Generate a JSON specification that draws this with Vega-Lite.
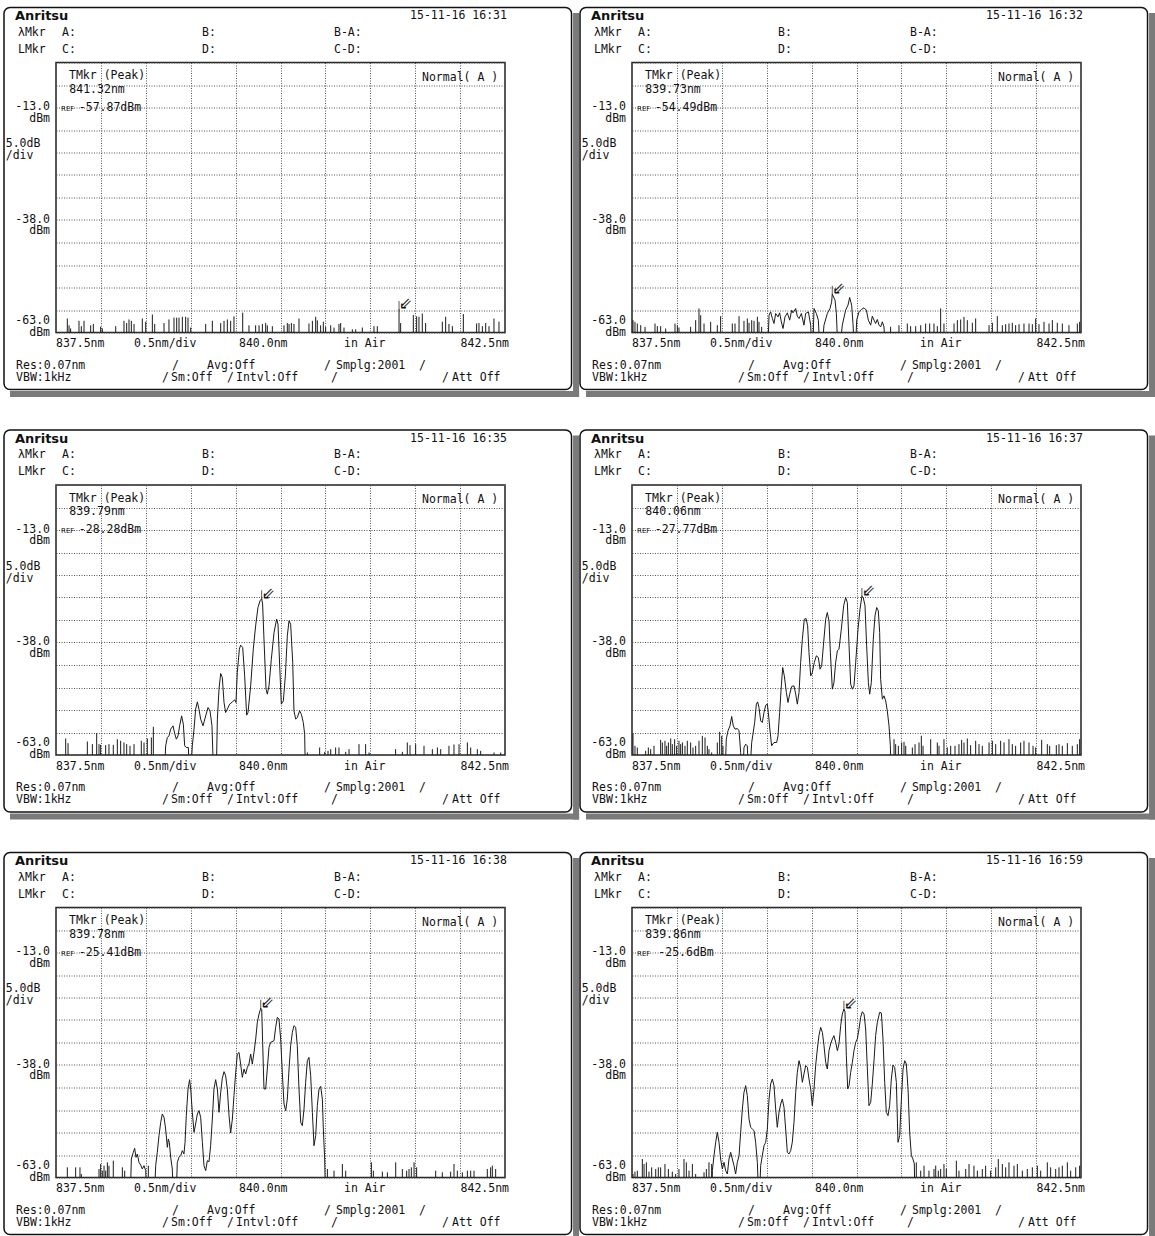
{
"$schema": "https://vega.github.io/schema/vega-lite/v6.json",
"background": "white",
"padding": {"left": 2, "top": 5.5, "right": 0, "bottom": 0},
"config": {
 "view": {"stroke": "#222", "strokeWidth": 1.5},
 "axis": {"gridColor": "#555", "gridDash": [1, 1.5], "gridWidth": 1, "gridOpacity": 1},
 "text": {"color": "#111"}
},
"datasets": {
"info": [
 {"p":1,"date":"15-11-16 16:31","wl":"841.32nm","pk":"-57.87dBm","w":841.32,"d":-57.87},
 {"p":2,"date":"15-11-16 16:32","wl":"839.73nm","pk":"-54.49dBm","w":839.73,"d":-54.49},
 {"p":3,"date":"15-11-16 16:35","wl":"839.79nm","pk":"-28.28dBm","w":839.79,"d":-28.28},
 {"p":4,"date":"15-11-16 16:37","wl":"840.06nm","pk":"-27.77dBm","w":840.06,"d":-27.77},
 {"p":5,"date":"15-11-16 16:38","wl":"839.78nm","pk":"-25.41dBm","w":839.78,"d":-25.41},
 {"p":6,"date":"15-11-16 16:59","wl":"839.86nm","pk":"-25.6dBm","w":839.86,"d":-25.6}
],
"lab": [
 {"t":"λMkr","w":837.077,"d":3.56},{"t":"A:","w":837.567,"d":3.56},{"t":"B:","w":839.126,"d":3.56},{"t":"B-A:","w":840.596,"d":3.56},
 {"t":"LMkr","w":837.077,"d":-0.22},{"t":"C:","w":837.567,"d":-0.22},{"t":"D:","w":839.126,"d":-0.22},{"t":"C-D:","w":840.596,"d":-0.22},
 {"t":"TMkr (Peak)","w":837.645,"d":-6.0},{"t":"Normal( A )","w":841.576,"d":-6.4},
 {"t":"5.0dB","w":836.94,"d":-21.2},{"t":"/div","w":836.94,"d":-23.85},
 {"t":"837.5nm","w":837.5,"d":-65.6},{"t":"0.5nm/div","w":838.369,"d":-65.6},{"t":"840.0nm","w":839.538,"d":-65.6},{"t":"in Air","w":840.707,"d":-65.6},
 {"t":"Res:0.07nm","w":837.055,"d":-70.4},{"t":"/","w":838.792,"d":-70.4},{"t":"Avg:Off","w":839.182,"d":-70.4},{"t":"/","w":840.484,"d":-70.4},{"t":"Smplg:2001","w":840.618,"d":-70.4},{"t":"/","w":841.542,"d":-70.4},
 {"t":"VBW:1kHz","w":837.055,"d":-73.1},{"t":"/","w":838.68,"d":-73.1},{"t":"Sm:Off","w":838.781,"d":-73.1},{"t":"/","w":839.404,"d":-73.1},{"t":"Intvl:Off","w":839.504,"d":-73.1},{"t":"/","w":840.562,"d":-73.1},{"t":"/","w":841.798,"d":-73.1},{"t":"Att Off","w":841.91,"d":-73.1}
],
"labr": [
 {"t":"-13.0","w":837.433,"d":-12.9},{"t":"dBm","w":837.433,"d":-15.55},
 {"t":"-38.0","w":837.433,"d":-37.9},{"t":"dBm","w":837.433,"d":-40.55},
 {"t":"-63.0","w":837.433,"d":-60.35},{"t":"dBm","w":837.433,"d":-63.0},
 {"t":"842.5nm","w":842.545,"d":-65.6}
],
"s1": [
 {"w":837.626,"d":-59.9},{"w":837.645,"d":-61.4},{"w":837.663,"d":-62.1},{"w":837.756,"d":-60.4},{"w":837.782,"d":-61.6},{"w":837.812,"d":-60.4},{"w":837.886,"d":-61.4},{"w":837.916,"d":-61.1},{"w":837.997,"d":-61.7},{"w":838.016,"d":-62.1},{"w":838.165,"d":-61.6},{"w":838.257,"d":-60.4},{"w":838.287,"d":-60.9},{"w":838.313,"d":-60.1},{"w":838.339,"d":-60.4},{"w":838.369,"d":-61.1},{"w":838.461,"d":-59.9},{"w":838.499,"d":-60.6},{"w":838.573,"d":-59.0},{"w":838.599,"d":-61.1},{"w":838.703,"d":-60.9},{"w":838.758,"d":-60.1},{"w":838.814,"d":-59.7},{"w":838.844,"d":-59.7},{"w":838.87,"d":-59.7},{"w":838.907,"d":-59.5},{"w":838.944,"d":-59.5},{"w":838.97,"d":-59.7},{"w":839.0,"d":-61.9},{"w":839.167,"d":-61.1},{"w":839.241,"d":-60.4},{"w":839.334,"d":-60.9},{"w":839.371,"d":-60.4},{"w":839.408,"d":-60.1},{"w":839.445,"d":-60.4},{"w":839.482,"d":-59.4},{"w":839.579,"d":-58.6},{"w":839.649,"d":-61.4},{"w":839.723,"d":-61.4},{"w":839.761,"d":-61.4},{"w":839.798,"d":-61.1},{"w":839.835,"d":-60.9},{"w":839.853,"d":-61.4},{"w":839.909,"d":-61.6},{"w":840.039,"d":-61.4},{"w":840.076,"d":-60.9},{"w":840.095,"d":-61.1},{"w":840.121,"d":-60.9},{"w":840.15,"d":-61.1},{"w":840.206,"d":-59.9},{"w":840.317,"d":-61.0},{"w":840.355,"d":-60.4},{"w":840.392,"d":-59.5},{"w":840.41,"d":-60.3},{"w":840.447,"d":-61.4},{"w":840.477,"d":-60.6},{"w":840.503,"d":-61.7},{"w":840.559,"d":-61.4},{"w":840.596,"d":-61.9},{"w":840.651,"d":-61.1},{"w":840.67,"d":-60.9},{"w":840.707,"d":-61.9},{"w":840.8,"d":-62.3},{"w":840.837,"d":-62.3},{"w":840.911,"d":-61.9},{"w":841.041,"d":-61.6},{"w":841.078,"d":-61.6},{"w":841.32,"d":-57.87},{"w":841.338,"d":-60.9},{"w":841.479,"d":-59.1},{"w":841.516,"d":-59.4},{"w":841.542,"d":-59.5},{"w":841.579,"d":-58.8},{"w":841.616,"d":-60.9},{"w":841.802,"d":-60.6},{"w":841.839,"d":-59.5},{"w":841.876,"d":-61.1},{"w":841.914,"d":-61.6},{"w":842.036,"d":-58.9},{"w":842.184,"d":-61.0},{"w":842.21,"d":-60.9},{"w":842.248,"d":-61.6},{"w":842.285,"d":-60.9},{"w":842.322,"d":-61.6},{"w":842.377,"d":-59.9},{"w":842.433,"d":-60.6}
],
"s2": [
 {"w":837.511,"d":-60.26},{"w":837.533,"d":-60.63},{"w":837.559,"d":-61.0},{"w":837.597,"d":-61.37},{"w":837.645,"d":-61.74},{"w":837.756,"d":-61.0},{"w":837.782,"d":-61.59},{"w":837.819,"d":-61.59},{"w":837.875,"d":-62.11},{"w":837.979,"d":-61.0},{"w":838.005,"d":-61.37},{"w":838.023,"d":-61.89},{"w":838.153,"d":-61.74},{"w":838.209,"d":-60.26},{"w":838.246,"d":-57.67},{"w":838.265,"d":-59.15},{"w":838.302,"d":-61.0},{"w":838.376,"d":-60.63},{"w":838.45,"d":-61.37},{"w":838.487,"d":-59.37},{"w":838.617,"d":-61.0},{"w":838.647,"d":-61.0},{"w":838.692,"d":-59.37},{"w":838.747,"d":-60.41},{"w":838.784,"d":-59.89},{"w":838.803,"d":-60.85},{"w":838.833,"d":-60.26},{"w":838.859,"d":-60.41},{"w":838.896,"d":-59.52},{"w":838.914,"d":-60.63},{"w":838.944,"d":-61.74},
 {"w":840.38,"d":-61.74},{"w":840.473,"d":-61.37},{"w":840.566,"d":-61.0},{"w":840.603,"d":-61.59},{"w":840.659,"d":-61.59},{"w":840.715,"d":-61.37},{"w":840.77,"d":-61.0},{"w":840.815,"d":-61.0},{"w":840.863,"d":-61.0},{"w":840.9,"d":-61.59},{"w":840.937,"d":-57.67},{"w":840.974,"d":-61.0},{"w":841.086,"d":-61.0},{"w":841.123,"d":-60.26},{"w":841.16,"d":-60.11},{"w":841.197,"d":-59.52},{"w":841.234,"d":-60.26},{"w":841.29,"d":-60.85},{"w":841.327,"d":-59.89},{"w":841.476,"d":-61.37},{"w":841.513,"d":-60.85},{"w":841.568,"d":-59.37},{"w":841.624,"d":-61.37},{"w":841.661,"d":-61.15},{"w":841.698,"d":-61.0},{"w":841.735,"d":-60.85},{"w":841.772,"d":-61.37},{"w":841.81,"d":-61.15},{"w":841.865,"d":-61.0},{"w":841.921,"d":-61.0},{"w":841.958,"d":-61.15},{"w":841.995,"d":-59.89},{"w":842.032,"d":-61.15},{"w":842.088,"d":-60.63},{"w":842.144,"d":-61.0},{"w":842.181,"d":-60.26},{"w":842.236,"d":-60.85},{"w":842.292,"d":-61.0},{"w":842.366,"d":-61.37},{"w":842.459,"d":-61.0},{"w":842.485,"d":-60.63}
],
"c2": [
 {"w":839.007,"d":-70},{"w":839.026,"d":-59.15},{"w":839.044,"d":-58.41},{"w":839.063,"d":-59.89},{"w":839.081,"d":-61.0},{"w":839.1,"d":-58.78},{"w":839.126,"d":-59.52},{"w":839.144,"d":-58.63},{"w":839.163,"d":-60.63},{"w":839.182,"d":-62.11},{"w":839.204,"d":-59.52},{"w":839.23,"d":-58.63},{"w":839.256,"d":-60.26},{"w":839.278,"d":-58.04},{"w":839.293,"d":-58.63},{"w":839.323,"d":-57.67},{"w":839.341,"d":-59.37},{"w":839.36,"d":-59.89},{"w":839.386,"d":-58.78},{"w":839.415,"d":-61.37},{"w":839.434,"d":-58.78},{"w":839.464,"d":-58.41},{"w":839.49,"d":-61.37},{"w":839.508,"d":-70},{"w":839.527,"d":-57.67},{"w":839.553,"d":-58.78},{"w":839.575,"d":-60.26},{"w":839.601,"d":-70},{"w":839.638,"d":-61.37},{"w":839.675,"d":-58.78},{"w":839.705,"d":-57.67},{"w":839.723,"d":-56.19},{"w":839.73,"d":-54.49},{"w":839.761,"d":-55.81},{"w":839.776,"d":-58.78},{"w":839.798,"d":-70},{"w":839.842,"d":-61.37},{"w":839.879,"d":-58.04},{"w":839.905,"d":-56.93},{"w":839.924,"d":-55.22},{"w":839.946,"d":-56.93},{"w":839.961,"d":-61.0},{"w":839.983,"d":-70},{"w":840.002,"d":-60.26},{"w":840.028,"d":-58.41},{"w":840.054,"d":-57.89},{"w":840.084,"d":-57.52},{"w":840.11,"d":-58.04},{"w":840.132,"d":-60.26},{"w":840.158,"d":-61.37},{"w":840.176,"d":-59.37},{"w":840.195,"d":-60.26},{"w":840.213,"d":-61.0},{"w":840.232,"d":-60.11},{"w":840.251,"d":-61.37},{"w":840.269,"d":-61.74},{"w":840.288,"d":-60.63},{"w":840.306,"d":-61.74},{"w":840.33,"d":-70}
],
"s3": [
 {"w":837.608,"d":-59.33},{"w":837.634,"d":-60.37},{"w":837.849,"d":-60.0},{"w":837.905,"d":-60.59},{"w":837.953,"d":-58.15},{"w":837.979,"d":-60.59},{"w":837.997,"d":-60.74},{"w":838.053,"d":-60.81},{"w":838.09,"d":-60.59},{"w":838.138,"d":-60.74},{"w":838.183,"d":-59.48},{"w":838.22,"d":-59.85},{"w":838.257,"d":-60.22},{"w":838.287,"d":-60.59},{"w":838.324,"d":-60.96},{"w":838.369,"d":-60.59},{"w":838.45,"d":-59.85},{"w":838.48,"d":-60.22},{"w":838.517,"d":-59.33},{"w":838.562,"d":-59.11},{"w":838.584,"d":-56.74},
 {"w":840.299,"d":-62.44},{"w":840.436,"d":-61.33},{"w":840.492,"d":-62.3},{"w":840.529,"d":-62.07},{"w":840.559,"d":-61.7},{"w":840.614,"d":-61.33},{"w":840.651,"d":-61.33},{"w":840.726,"d":-62.3},{"w":840.763,"d":-61.7},{"w":840.874,"d":-60.59},{"w":840.948,"d":-60.59},{"w":840.986,"d":-62.44},{"w":841.282,"d":-61.7},{"w":841.357,"d":-62.3},{"w":841.412,"d":-60.22},{"w":841.442,"d":-60.81},{"w":841.505,"d":-60.59},{"w":841.598,"d":-60.96},{"w":841.691,"d":-61.7},{"w":841.747,"d":-61.33},{"w":841.784,"d":-61.7},{"w":841.876,"d":-60.96},{"w":841.932,"d":-60.67},{"w":841.988,"d":-60.59},{"w":842.081,"d":-60.22},{"w":842.118,"d":-61.33},{"w":842.192,"d":-61.7},{"w":842.229,"d":-62.07},{"w":842.378,"d":-62.44},{"w":842.452,"d":-62.44}
],
"c3": [
 {"w":838.703,"d":-70},{"w":838.721,"d":-60.96},{"w":838.74,"d":-59.11},{"w":838.758,"d":-58.74},{"w":838.777,"d":-57.26},{"w":838.803,"d":-56.52},{"w":838.821,"d":-58.15},{"w":838.84,"d":-59.48},{"w":838.859,"d":-58.74},{"w":838.877,"d":-56.52},{"w":838.899,"d":-54.3},{"w":838.918,"d":-56.15},{"w":838.933,"d":-60.96},{"w":838.951,"d":-61.33},{"w":838.974,"d":-61.33},{"w":838.992,"d":-70},{"w":839.018,"d":-60.96},{"w":839.037,"d":-57.26},{"w":839.055,"d":-52.81},{"w":839.074,"d":-51.19},{"w":839.092,"d":-52.81},{"w":839.111,"d":-55.04},{"w":839.137,"d":-56.52},{"w":839.167,"d":-54.3},{"w":839.193,"d":-52.44},{"w":839.215,"d":-53.19},{"w":839.237,"d":-56.52},{"w":839.259,"d":-70},{"w":839.282,"d":-70},{"w":839.297,"d":-55.04},{"w":839.315,"d":-48.37},{"w":839.334,"d":-44.89},{"w":839.352,"d":-45.78},{"w":839.371,"d":-51.33},{"w":839.389,"d":-53.56},{"w":839.408,"d":-52.81},{"w":839.434,"d":-51.7},{"w":839.464,"d":-51.19},{"w":839.49,"d":-50.74},{"w":839.504,"d":-51.33},{"w":839.519,"d":-44.67},{"w":839.542,"d":-39.48},{"w":839.556,"d":-38.59},{"w":839.579,"d":-39.11},{"w":839.601,"d":-45.41},{"w":839.623,"d":-54.15},{"w":839.638,"d":-53.56},{"w":839.668,"d":-47.63},{"w":839.697,"d":-39.48},{"w":839.723,"d":-34.3},{"w":839.749,"d":-30.22},{"w":839.772,"d":-28.74},{"w":839.79,"d":-28.28},{"w":839.801,"d":-29.48},{"w":839.816,"d":-37.26},{"w":839.839,"d":-48.37},{"w":839.853,"d":-49.48},{"w":839.872,"d":-47.63},{"w":839.898,"d":-41.7},{"w":839.928,"d":-35.78},{"w":839.957,"d":-32.81},{"w":839.972,"d":-33.93},{"w":839.991,"d":-43.19},{"w":840.009,"d":-51.7},{"w":840.032,"d":-50.96},{"w":840.054,"d":-45.41},{"w":840.076,"d":-36.52},{"w":840.095,"d":-33.19},{"w":840.113,"d":-33.93},{"w":840.136,"d":-42.44},{"w":840.15,"d":-53.19},{"w":840.169,"d":-55.04},{"w":840.187,"d":-54.67},{"w":840.213,"d":-53.19},{"w":840.232,"d":-53.93},{"w":840.254,"d":-55.78},{"w":840.269,"d":-58.37},{"w":840.28,"d":-70}
],
"s4": [
 {"w":837.511,"d":-58.15},{"w":837.533,"d":-60.96},{"w":837.559,"d":-61.33},{"w":837.652,"d":-62.07},{"w":837.682,"d":-61.33},{"w":837.708,"d":-61.7},{"w":837.745,"d":-60.96},{"w":837.819,"d":-59.63},{"w":837.838,"d":-60.22},{"w":837.867,"d":-59.85},{"w":837.886,"d":-60.96},{"w":837.905,"d":-60.22},{"w":837.931,"d":-59.33},{"w":837.949,"d":-60.59},{"w":837.975,"d":-59.48},{"w":837.997,"d":-60.96},{"w":838.023,"d":-59.85},{"w":838.042,"d":-60.59},{"w":838.061,"d":-60.22},{"w":838.09,"d":-60.96},{"w":838.116,"d":-59.85},{"w":838.153,"d":-60.22},{"w":838.179,"d":-61.33},{"w":838.209,"d":-60.96},{"w":838.246,"d":-59.85},{"w":838.283,"d":-58.74},{"w":838.313,"d":-59.11},{"w":838.339,"d":-60.96},{"w":838.357,"d":-61.7},{"w":838.387,"d":-62.44},{"w":838.45,"d":-60.22},{"w":838.476,"d":-57.85},{"w":838.499,"d":-58.74},{"w":838.513,"d":-60.96},
 {"w":840.418,"d":-59.48},{"w":840.436,"d":-60.59},{"w":840.466,"d":-60.96},{"w":840.503,"d":-60.22},{"w":840.529,"d":-60.07},{"w":840.548,"d":-60.96},{"w":840.622,"d":-61.33},{"w":840.652,"d":-60.59},{"w":840.696,"d":-60.22},{"w":840.722,"d":-58.74},{"w":840.741,"d":-60.96},{"w":840.826,"d":-59.48},{"w":840.9,"d":-60.22},{"w":840.919,"d":-60.96},{"w":840.974,"d":-59.48},{"w":841.011,"d":-61.33},{"w":841.049,"d":-60.96},{"w":841.097,"d":-60.96},{"w":841.141,"d":-60.59},{"w":841.171,"d":-59.63},{"w":841.197,"d":-60.22},{"w":841.234,"d":-59.33},{"w":841.271,"d":-60.81},{"w":841.327,"d":-59.85},{"w":841.364,"d":-60.59},{"w":841.401,"d":-60.96},{"w":841.476,"d":-60.22},{"w":841.513,"d":-59.85},{"w":841.55,"d":-60.59},{"w":841.605,"d":-59.85},{"w":841.643,"d":-60.22},{"w":841.698,"d":-59.48},{"w":841.735,"d":-60.59},{"w":841.772,"d":-60.96},{"w":841.828,"d":-60.22},{"w":841.865,"d":-59.85},{"w":841.921,"d":-60.22},{"w":841.966,"d":-60.96},{"w":841.995,"d":-61.33},{"w":842.062,"d":-59.63},{"w":842.125,"d":-60.59},{"w":842.151,"d":-60.96},{"w":842.225,"d":-60.81},{"w":842.255,"d":-60.59},{"w":842.292,"d":-60.96},{"w":842.348,"d":-60.37},{"w":842.403,"d":-60.96},{"w":842.459,"d":-60.59},{"w":842.485,"d":-59.48}
],
"c4": [
 {"w":838.532,"d":-70},{"w":838.55,"d":-59.48},{"w":838.569,"d":-57.63},{"w":838.591,"d":-56.52},{"w":838.61,"d":-54.44},{"w":838.628,"d":-56.52},{"w":838.647,"d":-57.26},{"w":838.673,"d":-57.11},{"w":838.692,"d":-57.63},{"w":838.71,"d":-62.44},{"w":838.729,"d":-70},{"w":838.747,"d":-61.33},{"w":838.766,"d":-60.59},{"w":838.784,"d":-60.96},{"w":838.803,"d":-70},{"w":838.833,"d":-60.22},{"w":838.847,"d":-58.37},{"w":838.866,"d":-55.78},{"w":838.885,"d":-51.7},{"w":838.899,"d":-51.19},{"w":838.914,"d":-52.44},{"w":838.933,"d":-55.41},{"w":838.951,"d":-55.78},{"w":838.97,"d":-53.56},{"w":838.989,"d":-51.93},{"w":839.007,"d":-51.7},{"w":839.018,"d":-53.56},{"w":839.037,"d":-57.63},{"w":839.055,"d":-60.96},{"w":839.081,"d":-60.22},{"w":839.111,"d":-60.22},{"w":839.126,"d":-58.74},{"w":839.144,"d":-53.56},{"w":839.163,"d":-47.63},{"w":839.178,"d":-43.56},{"w":839.196,"d":-45.41},{"w":839.219,"d":-49.11},{"w":839.237,"d":-51.33},{"w":839.256,"d":-49.48},{"w":839.278,"d":-47.78},{"w":839.304,"d":-47.63},{"w":839.323,"d":-49.48},{"w":839.341,"d":-51.7},{"w":839.36,"d":-49.11},{"w":839.378,"d":-42.44},{"w":839.397,"d":-37.26},{"w":839.419,"d":-32.81},{"w":839.438,"d":-32.67},{"w":839.456,"d":-34.3},{"w":839.471,"d":-40.22},{"w":839.49,"d":-45.41},{"w":839.508,"d":-44.67},{"w":839.53,"d":-42.44},{"w":839.553,"d":-40.96},{"w":839.575,"d":-41.33},{"w":839.594,"d":-43.93},{"w":839.612,"d":-43.19},{"w":839.631,"d":-38.74},{"w":839.657,"d":-32.81},{"w":839.675,"d":-31.33},{"w":839.694,"d":-33.19},{"w":839.709,"d":-40.22},{"w":839.731,"d":-48.37},{"w":839.749,"d":-46.89},{"w":839.768,"d":-42.44},{"w":839.787,"d":-39.85},{"w":839.805,"d":-39.48},{"w":839.831,"d":-35.04},{"w":839.857,"d":-29.85},{"w":839.879,"d":-28.0},{"w":839.898,"d":-29.11},{"w":839.917,"d":-38.74},{"w":839.935,"d":-47.26},{"w":839.954,"d":-48.37},{"w":839.972,"d":-47.63},{"w":839.991,"d":-42.44},{"w":840.017,"d":-35.04},{"w":840.039,"d":-30.59},{"w":840.06,"d":-27.77},{"w":840.075,"d":-28.0},{"w":840.095,"d":-29.85},{"w":840.113,"d":-38.74},{"w":840.132,"d":-46.89},{"w":840.147,"d":-49.48},{"w":840.165,"d":-46.89},{"w":840.187,"d":-37.26},{"w":840.206,"d":-32.07},{"w":840.225,"d":-30.22},{"w":840.243,"d":-30.96},{"w":840.258,"d":-35.78},{"w":840.269,"d":-46.15},{"w":840.288,"d":-50.59},{"w":840.306,"d":-49.85},{"w":840.325,"d":-50.96},{"w":840.343,"d":-53.19},{"w":840.362,"d":-56.52},{"w":840.377,"d":-60.96},{"w":840.388,"d":-70}
],
"s5": [
 {"w":837.626,"d":-60.74},{"w":837.719,"d":-60.74},{"w":837.767,"d":-60.74},{"w":837.782,"d":-62.22},{"w":837.979,"d":-61.11},{"w":837.997,"d":-60.0},{"w":838.016,"d":-61.48},{"w":838.035,"d":-60.37},{"w":838.053,"d":-61.48},{"w":838.072,"d":-59.63},{"w":838.09,"d":-60.37},{"w":838.138,"d":-59.26},{"w":838.239,"d":-60.74},{"w":838.265,"d":-61.48},{"w":838.528,"d":-60.37},
 {"w":840.522,"d":-61.11},{"w":840.596,"d":-61.48},{"w":840.689,"d":-60.0},{"w":840.726,"d":-61.48},{"w":841.012,"d":-59.63},{"w":841.034,"d":-61.48},{"w":841.134,"d":-61.7},{"w":841.19,"d":-61.85},{"w":841.283,"d":-59.63},{"w":841.357,"d":-61.11},{"w":841.405,"d":-61.48},{"w":841.431,"d":-61.11},{"w":841.457,"d":-60.74},{"w":841.487,"d":-59.63},{"w":841.516,"d":-60.74},{"w":841.728,"d":-61.48},{"w":841.802,"d":-61.85},{"w":841.895,"d":-61.7},{"w":841.932,"d":-60.0},{"w":841.969,"d":-61.48},{"w":842.025,"d":-61.85},{"w":842.081,"d":-61.48},{"w":842.118,"d":-61.48},{"w":842.155,"d":-61.48},{"w":842.303,"d":-61.11},{"w":842.34,"d":-60.74},{"w":842.359,"d":-60.37},{"w":842.396,"d":-61.11}
],
"c5": [
 {"w":838.324,"d":-70},{"w":838.339,"d":-58.89},{"w":838.361,"d":-57.41},{"w":838.376,"d":-56.52},{"w":838.391,"d":-58.52},{"w":838.406,"d":-57.78},{"w":838.424,"d":-59.63},{"w":838.443,"d":-60.22},{"w":838.461,"d":-61.11},{"w":838.48,"d":-60.37},{"w":838.499,"d":-61.48},{"w":838.512,"d":-70},{"w":838.591,"d":-70},{"w":838.61,"d":-60.37},{"w":838.628,"d":-57.41},{"w":838.647,"d":-53.7},{"w":838.666,"d":-50.74},{"w":838.684,"d":-48.89},{"w":838.703,"d":-49.63},{"w":838.721,"d":-52.22},{"w":838.74,"d":-56.3},{"w":838.751,"d":-54.44},{"w":838.762,"d":-55.19},{"w":838.777,"d":-58.52},{"w":838.795,"d":-61.11},{"w":838.814,"d":-70},{"w":838.833,"d":-70},{"w":838.851,"d":-59.63},{"w":838.87,"d":-58.52},{"w":838.888,"d":-58.15},{"w":838.907,"d":-57.04},{"w":838.925,"d":-57.78},{"w":838.937,"d":-55.19},{"w":838.951,"d":-49.26},{"w":838.97,"d":-43.33},{"w":838.988,"d":-41.26},{"w":839.0,"d":-43.33},{"w":839.018,"d":-48.52},{"w":839.037,"d":-52.96},{"w":839.055,"d":-51.11},{"w":839.074,"d":-48.89},{"w":839.092,"d":-48.15},{"w":839.111,"d":-49.63},{"w":839.13,"d":-55.19},{"w":839.148,"d":-60.37},{"w":839.167,"d":-61.48},{"w":839.185,"d":-59.26},{"w":839.204,"d":-59.48},{"w":839.222,"d":-55.93},{"w":839.241,"d":-50.0},{"w":839.259,"d":-43.33},{"w":839.278,"d":-41.26},{"w":839.297,"d":-43.33},{"w":839.315,"d":-48.52},{"w":839.334,"d":-44.07},{"w":839.352,"d":-40.96},{"w":839.371,"d":-39.48},{"w":839.389,"d":-40.37},{"w":839.408,"d":-43.33},{"w":839.427,"d":-49.26},{"w":839.445,"d":-53.11},{"w":839.464,"d":-50.0},{"w":839.482,"d":-44.81},{"w":839.501,"d":-39.63},{"w":839.519,"d":-35.56},{"w":839.538,"d":-35.19},{"w":839.556,"d":-37.78},{"w":839.575,"d":-40.74},{"w":839.594,"d":-38.89},{"w":839.612,"d":-40.0},{"w":839.631,"d":-38.52},{"w":839.649,"d":-37.78},{"w":839.668,"d":-35.56},{"w":839.686,"d":-37.78},{"w":839.705,"d":-35.19},{"w":839.724,"d":-32.22},{"w":839.742,"d":-28.52},{"w":839.761,"d":-26.67},{"w":839.78,"d":-25.41},{"w":839.791,"d":-25.7},{"w":839.801,"d":-32.96},{"w":839.816,"d":-43.33},{"w":839.835,"d":-43.33},{"w":839.853,"d":-38.89},{"w":839.872,"d":-34.07},{"w":839.891,"d":-32.96},{"w":839.928,"d":-32.59},{"w":839.946,"d":-29.63},{"w":839.965,"d":-27.41},{"w":839.983,"d":-27.78},{"w":840.002,"d":-32.22},{"w":840.02,"d":-39.63},{"w":840.039,"d":-46.67},{"w":840.058,"d":-48.15},{"w":840.076,"d":-45.56},{"w":840.095,"d":-38.89},{"w":840.113,"d":-33.7},{"w":840.132,"d":-30.74},{"w":840.15,"d":-29.26},{"w":840.169,"d":-29.63},{"w":840.187,"d":-33.7},{"w":840.206,"d":-43.33},{"w":840.225,"d":-50.74},{"w":840.243,"d":-51.48},{"w":840.262,"d":-47.78},{"w":840.28,"d":-41.85},{"w":840.299,"d":-37.04},{"w":840.317,"d":-36.3},{"w":840.336,"d":-40.37},{"w":840.355,"d":-48.52},{"w":840.373,"d":-55.93},{"w":840.392,"d":-53.7},{"w":840.41,"d":-47.04},{"w":840.429,"d":-43.33},{"w":840.447,"d":-42.74},{"w":840.466,"d":-45.56},{"w":840.477,"d":-52.22},{"w":840.492,"d":-58.89},{"w":840.503,"d":-70}
],
"s6": [
 {"w":837.511,"d":-62.22},{"w":837.533,"d":-61.7},{"w":837.559,"d":-61.48},{"w":837.615,"d":-58.89},{"w":837.634,"d":-60.0},{"w":837.66,"d":-59.63},{"w":837.689,"d":-61.7},{"w":837.719,"d":-60.74},{"w":837.764,"d":-61.11},{"w":837.793,"d":-60.74},{"w":837.819,"d":-60.74},{"w":837.867,"d":-60.0},{"w":837.905,"d":-61.11},{"w":837.949,"d":-61.7},{"w":837.986,"d":-62.22},{"w":838.023,"d":-61.11},{"w":838.079,"d":-58.89},{"w":838.105,"d":-59.63},{"w":838.135,"d":-61.48},{"w":838.172,"d":-60.0},{"w":838.209,"d":-62.22},{"w":838.302,"d":-61.85},{"w":838.328,"d":-61.11},{"w":838.357,"d":-59.63},{"w":838.387,"d":-60.0},
 {"w":840.666,"d":-59.63},{"w":840.715,"d":-61.48},{"w":840.752,"d":-60.37},{"w":840.807,"d":-61.48},{"w":840.863,"d":-61.11},{"w":840.882,"d":-60.37},{"w":840.911,"d":-61.48},{"w":840.937,"d":-61.11},{"w":840.974,"d":-60.0},{"w":841.0,"d":-61.11},{"w":841.112,"d":-59.26},{"w":841.141,"d":-61.48},{"w":841.216,"d":-61.11},{"w":841.253,"d":-60.0},{"w":841.308,"d":-60.37},{"w":841.346,"d":-61.48},{"w":841.401,"d":-61.11},{"w":841.438,"d":-60.37},{"w":841.494,"d":-61.48},{"w":841.55,"d":-60.74},{"w":841.579,"d":-58.89},{"w":841.624,"d":-60.0},{"w":841.661,"d":-60.74},{"w":841.698,"d":-59.63},{"w":841.754,"d":-60.37},{"w":841.791,"d":-60.0},{"w":841.847,"d":-61.48},{"w":841.902,"d":-61.11},{"w":841.958,"d":-60.74},{"w":842.014,"d":-60.37},{"w":842.051,"d":-61.48},{"w":842.125,"d":-59.63},{"w":842.162,"d":-60.74},{"w":842.218,"d":-61.11},{"w":842.255,"d":-60.74},{"w":842.292,"d":-60.37},{"w":842.348,"d":-59.63},{"w":842.385,"d":-61.48},{"w":842.441,"d":-60.74},{"w":842.485,"d":-60.37}
],
"c6": [
 {"w":838.39,"d":-70},{"w":838.395,"d":-61.48},{"w":838.413,"d":-58.15},{"w":838.432,"d":-55.19},{"w":838.45,"d":-52.96},{"w":838.469,"d":-55.19},{"w":838.487,"d":-58.89},{"w":838.506,"d":-61.11},{"w":838.525,"d":-59.63},{"w":838.543,"d":-61.48},{"w":838.562,"d":-62.22},{"w":838.58,"d":-58.89},{"w":838.599,"d":-57.41},{"w":838.617,"d":-58.89},{"w":838.636,"d":-60.37},{"w":838.654,"d":-62.22},{"w":838.673,"d":-59.63},{"w":838.692,"d":-58.15},{"w":838.71,"d":-52.96},{"w":838.729,"d":-47.78},{"w":838.747,"d":-44.07},{"w":838.766,"d":-42.59},{"w":838.784,"d":-44.81},{"w":838.803,"d":-50.0},{"w":838.821,"d":-51.85},{"w":838.84,"d":-52.22},{"w":838.859,"d":-52.59},{"w":838.877,"d":-55.19},{"w":838.896,"d":-59.63},{"w":838.914,"d":-70},{"w":838.933,"d":-60.37},{"w":838.951,"d":-58.15},{"w":838.97,"d":-55.93},{"w":838.989,"d":-55.19},{"w":839.007,"d":-52.22},{"w":839.026,"d":-45.56},{"w":839.044,"d":-42.22},{"w":839.063,"d":-41.11},{"w":839.081,"d":-42.59},{"w":839.1,"d":-47.78},{"w":839.118,"d":-51.85},{"w":839.137,"d":-48.52},{"w":839.156,"d":-46.67},{"w":839.174,"d":-45.56},{"w":839.193,"d":-47.41},{"w":839.211,"d":-52.22},{"w":839.23,"d":-57.41},{"w":839.248,"d":-57.78},{"w":839.267,"d":-57.04},{"w":839.285,"d":-55.19},{"w":839.304,"d":-50.74},{"w":839.323,"d":-44.07},{"w":839.341,"d":-39.63},{"w":839.36,"d":-37.04},{"w":839.378,"d":-38.52},{"w":839.397,"d":-41.85},{"w":839.415,"d":-40.0},{"w":839.434,"d":-38.15},{"w":839.453,"d":-38.52},{"w":839.471,"d":-41.11},{"w":839.49,"d":-43.33},{"w":839.508,"d":-47.04},{"w":839.527,"d":-43.33},{"w":839.545,"d":-38.15},{"w":839.564,"d":-34.44},{"w":839.582,"d":-31.48},{"w":839.601,"d":-29.63},{"w":839.62,"d":-30.74},{"w":839.638,"d":-33.7},{"w":839.657,"d":-37.41},{"w":839.675,"d":-38.89},{"w":839.694,"d":-34.81},{"w":839.712,"d":-33.33},{"w":839.731,"d":-32.22},{"w":839.749,"d":-31.48},{"w":839.768,"d":-32.96},{"w":839.787,"d":-34.81},{"w":839.805,"d":-33.33},{"w":839.824,"d":-29.26},{"w":839.842,"d":-26.67},{"w":839.86,"d":-25.6},{"w":839.872,"d":-26.15},{"w":839.887,"d":-35.93},{"w":839.902,"d":-43.33},{"w":839.917,"d":-42.59},{"w":839.935,"d":-39.63},{"w":839.954,"d":-37.41},{"w":839.972,"d":-34.81},{"w":839.991,"d":-32.96},{"w":840.009,"d":-32.22},{"w":840.028,"d":-30.0},{"w":840.046,"d":-27.41},{"w":840.065,"d":-26.15},{"w":840.084,"d":-26.67},{"w":840.102,"d":-30.0},{"w":840.121,"d":-38.89},{"w":840.139,"d":-47.04},{"w":840.158,"d":-46.3},{"w":840.176,"d":-42.22},{"w":840.195,"d":-37.04},{"w":840.213,"d":-31.48},{"w":840.232,"d":-28.52},{"w":840.258,"d":-26.3},{"w":840.277,"d":-26.44},{"w":840.295,"d":-32.22},{"w":840.314,"d":-41.85},{"w":840.332,"d":-48.52},{"w":840.351,"d":-49.26},{"w":840.369,"d":-47.04},{"w":840.388,"d":-41.11},{"w":840.406,"d":-38.0},{"w":840.425,"d":-38.52},{"w":840.444,"d":-41.85},{"w":840.462,"d":-55.19},{"w":840.481,"d":-53.7},{"w":840.5,"d":-45.56},{"w":840.518,"d":-38.89},{"w":840.537,"d":-37.04},{"w":840.555,"d":-37.78},{"w":840.574,"d":-43.33},{"w":840.592,"d":-52.96},{"w":840.611,"d":-58.15},{"w":840.629,"d":-58.89},{"w":840.644,"d":-60.0},{"w":840.652,"d":-70}
]
},
"columns": 2,
"spacing": {"row": 152.5, "column": 127},
"bounds": "flush",
"concat": [
{"width":449,"height":270,
 "encoding":{"x":{"field":"w","type":"quantitative","scale":{"domain":[837.5,842.5],"nice":false,"zero":false},"axis":{"values":[837.5,838,838.5,839,839.5,840,840.5,841,841.5,842,842.5],"grid":true,"labels":false,"ticks":false,"domain":false,"title":null}},"y":{"field":"d","type":"quantitative","scale":{"domain":[-63,-3],"nice":false,"zero":false},"axis":{"values":[-63,-58,-53,-48,-43,-38,-33,-28,-23,-18,-13,-8,-3],"grid":true,"labels":false,"ticks":false,"domain":false,"title":null}}},
 "layer":[
  {"data":{"name":"s1"},"mark":{"type":"rule","clip":true,"color":"#1a1a1a","strokeWidth":1},"encoding":{"y2":{"datum":-63}}},
  {"data":{"name":"lab"},"mark":{"type":"text","align":"left","baseline":"middle","font":"DejaVu Sans Mono","fontSize":11.5,"color":"#111"},"encoding":{"text":{"field":"t"}}},
  {"data":{"name":"labr"},"mark":{"type":"text","align":"right","baseline":"middle","font":"DejaVu Sans Mono","fontSize":11.5,"color":"#111"},"encoding":{"text":{"field":"t"}}},
  {"data":{"name":"info"},"transform":[{"filter":"datum.p == 1"}],"layer":[
   {"mark":{"type":"rect","color":"#7a7a7a"},"encoding":{"x":{"datum":843.258,"type":"quantitative"},"x2":{"datum":843.325},"y":{"datum":8.0,"type":"quantitative"},"y2":{"datum":-77.33}}},
   {"mark":{"type":"rect","color":"#7a7a7a"},"encoding":{"x":{"datum":836.988,"type":"quantitative"},"x2":{"datum":843.325},"y":{"datum":-76.0,"type":"quantitative"},"y2":{"datum":-77.33}}},
   {"mark":{"type":"rect","filled":false,"stroke":"#111","strokeWidth":1.5,"cornerRadius":6},"encoding":{"x":{"datum":836.921,"type":"quantitative"},"x2":{"datum":843.241},"y":{"datum":9.22,"type":"quantitative"},"y2":{"datum":-75.67}}},
   {"mark":{"type":"text","align":"left","baseline":"middle","font":"DejaVu Sans","fontWeight":"bold","fontSize":13,"color":"#111"},"encoding":{"x":{"datum":837.043,"type":"quantitative"},"y":{"datum":7.33,"type":"quantitative"},"text":{"value":"Anritsu"}}},
   {"mark":{"type":"text","align":"left","baseline":"middle","font":"DejaVu Sans","fontSize":7,"color":"#111"},"encoding":{"x":{"datum":837.556,"type":"quantitative"},"y":{"datum":-13.33,"type":"quantitative"},"text":{"value":"REF"}}},
   {"mark":{"type":"text","align":"right","baseline":"middle","font":"DejaVu Sans Mono","fontSize":11.5,"color":"#111"},"encoding":{"x":{"datum":842.522,"type":"quantitative"},"y":{"datum":7.33,"type":"quantitative"},"text":{"field":"date"}}},
   {"mark":{"type":"text","align":"center","baseline":"middle","font":"DejaVu Sans Mono","fontSize":11.5,"color":"#111"},"encoding":{"x":{"datum":837.957,"type":"quantitative"},"y":{"datum":-9.11,"type":"quantitative"},"text":{"field":"wl"}}},
   {"mark":{"type":"text","align":"center","baseline":"middle","font":"DejaVu Sans Mono","fontSize":11.5,"color":"#111"},"encoding":{"x":{"datum":838.101,"type":"quantitative"},"y":{"datum":-13.0,"type":"quantitative"},"text":{"field":"pk"}}},
   {"mark":{"type":"tick","orient":"vertical","size":9,"thickness":1,"yOffset":-4,"color":"#111"}},
   {"mark":{"type":"text","text":"⇙","align":"left","baseline":"bottom","font":"DejaVu Sans","fontSize":16,"dx":0,"dy":3,"color":"#111"}}
  ]}
 ]},
{"width":449,"height":270,
 "encoding":{"x":{"field":"w","type":"quantitative","scale":{"domain":[837.5,842.5],"nice":false,"zero":false},"axis":{"values":[837.5,838,838.5,839,839.5,840,840.5,841,841.5,842,842.5],"grid":true,"labels":false,"ticks":false,"domain":false,"title":null}},"y":{"field":"d","type":"quantitative","scale":{"domain":[-63,-3],"nice":false,"zero":false},"axis":{"values":[-63,-58,-53,-48,-43,-38,-33,-28,-23,-18,-13,-8,-3],"grid":true,"labels":false,"ticks":false,"domain":false,"title":null}}},
 "layer":[
  {"data":{"name":"s2"},"mark":{"type":"rule","clip":true,"color":"#1a1a1a","strokeWidth":1},"encoding":{"y2":{"datum":-63}}},
  {"data":{"name":"c2"},"mark":{"type":"line","clip":true,"color":"#1a1a1a","strokeWidth":1}},
  {"data":{"name":"lab"},"mark":{"type":"text","align":"left","baseline":"middle","font":"DejaVu Sans Mono","fontSize":11.5,"color":"#111"},"encoding":{"text":{"field":"t"}}},
  {"data":{"name":"labr"},"mark":{"type":"text","align":"right","baseline":"middle","font":"DejaVu Sans Mono","fontSize":11.5,"color":"#111"},"encoding":{"text":{"field":"t"}}},
  {"data":{"name":"info"},"transform":[{"filter":"datum.p == 2"}],"layer":[
   {"mark":{"type":"rect","color":"#7a7a7a"},"encoding":{"x":{"datum":843.258,"type":"quantitative"},"x2":{"datum":843.325},"y":{"datum":8.0,"type":"quantitative"},"y2":{"datum":-77.33}}},
   {"mark":{"type":"rect","color":"#7a7a7a"},"encoding":{"x":{"datum":836.988,"type":"quantitative"},"x2":{"datum":843.325},"y":{"datum":-76.0,"type":"quantitative"},"y2":{"datum":-77.33}}},
   {"mark":{"type":"rect","filled":false,"stroke":"#111","strokeWidth":1.5,"cornerRadius":6},"encoding":{"x":{"datum":836.921,"type":"quantitative"},"x2":{"datum":843.241},"y":{"datum":9.22,"type":"quantitative"},"y2":{"datum":-75.67}}},
   {"mark":{"type":"text","align":"left","baseline":"middle","font":"DejaVu Sans","fontWeight":"bold","fontSize":13,"color":"#111"},"encoding":{"x":{"datum":837.043,"type":"quantitative"},"y":{"datum":7.33,"type":"quantitative"},"text":{"value":"Anritsu"}}},
   {"mark":{"type":"text","align":"left","baseline":"middle","font":"DejaVu Sans","fontSize":7,"color":"#111"},"encoding":{"x":{"datum":837.556,"type":"quantitative"},"y":{"datum":-13.33,"type":"quantitative"},"text":{"value":"REF"}}},
   {"mark":{"type":"text","align":"right","baseline":"middle","font":"DejaVu Sans Mono","fontSize":11.5,"color":"#111"},"encoding":{"x":{"datum":842.522,"type":"quantitative"},"y":{"datum":7.33,"type":"quantitative"},"text":{"field":"date"}}},
   {"mark":{"type":"text","align":"center","baseline":"middle","font":"DejaVu Sans Mono","fontSize":11.5,"color":"#111"},"encoding":{"x":{"datum":837.957,"type":"quantitative"},"y":{"datum":-9.11,"type":"quantitative"},"text":{"field":"wl"}}},
   {"mark":{"type":"text","align":"center","baseline":"middle","font":"DejaVu Sans Mono","fontSize":11.5,"color":"#111"},"encoding":{"x":{"datum":838.101,"type":"quantitative"},"y":{"datum":-13.0,"type":"quantitative"},"text":{"field":"pk"}}},
   {"mark":{"type":"tick","orient":"vertical","size":9,"thickness":1,"yOffset":-4,"color":"#111"}},
   {"mark":{"type":"text","text":"⇙","align":"left","baseline":"bottom","font":"DejaVu Sans","fontSize":16,"dx":0,"dy":3,"color":"#111"}}
  ]}
 ]},
{"width":449,"height":270,
 "encoding":{"x":{"field":"w","type":"quantitative","scale":{"domain":[837.5,842.5],"nice":false,"zero":false},"axis":{"values":[837.5,838,838.5,839,839.5,840,840.5,841,841.5,842,842.5],"grid":true,"labels":false,"ticks":false,"domain":false,"title":null}},"y":{"field":"d","type":"quantitative","scale":{"domain":[-63,-3],"nice":false,"zero":false},"axis":{"values":[-63,-58,-53,-48,-43,-38,-33,-28,-23,-18,-13,-8,-3],"grid":true,"labels":false,"ticks":false,"domain":false,"title":null}}},
 "layer":[
  {"data":{"name":"s3"},"mark":{"type":"rule","clip":true,"color":"#1a1a1a","strokeWidth":1},"encoding":{"y2":{"datum":-63}}},
  {"data":{"name":"c3"},"mark":{"type":"line","clip":true,"color":"#1a1a1a","strokeWidth":1}},
  {"data":{"name":"lab"},"mark":{"type":"text","align":"left","baseline":"middle","font":"DejaVu Sans Mono","fontSize":11.5,"color":"#111"},"encoding":{"text":{"field":"t"}}},
  {"data":{"name":"labr"},"mark":{"type":"text","align":"right","baseline":"middle","font":"DejaVu Sans Mono","fontSize":11.5,"color":"#111"},"encoding":{"text":{"field":"t"}}},
  {"data":{"name":"info"},"transform":[{"filter":"datum.p == 3"}],"layer":[
   {"mark":{"type":"rect","color":"#7a7a7a"},"encoding":{"x":{"datum":843.258,"type":"quantitative"},"x2":{"datum":843.325},"y":{"datum":8.0,"type":"quantitative"},"y2":{"datum":-77.33}}},
   {"mark":{"type":"rect","color":"#7a7a7a"},"encoding":{"x":{"datum":836.988,"type":"quantitative"},"x2":{"datum":843.325},"y":{"datum":-76.0,"type":"quantitative"},"y2":{"datum":-77.33}}},
   {"mark":{"type":"rect","filled":false,"stroke":"#111","strokeWidth":1.5,"cornerRadius":6},"encoding":{"x":{"datum":836.921,"type":"quantitative"},"x2":{"datum":843.241},"y":{"datum":9.22,"type":"quantitative"},"y2":{"datum":-75.67}}},
   {"mark":{"type":"text","align":"left","baseline":"middle","font":"DejaVu Sans","fontWeight":"bold","fontSize":13,"color":"#111"},"encoding":{"x":{"datum":837.043,"type":"quantitative"},"y":{"datum":7.33,"type":"quantitative"},"text":{"value":"Anritsu"}}},
   {"mark":{"type":"text","align":"left","baseline":"middle","font":"DejaVu Sans","fontSize":7,"color":"#111"},"encoding":{"x":{"datum":837.556,"type":"quantitative"},"y":{"datum":-13.33,"type":"quantitative"},"text":{"value":"REF"}}},
   {"mark":{"type":"text","align":"right","baseline":"middle","font":"DejaVu Sans Mono","fontSize":11.5,"color":"#111"},"encoding":{"x":{"datum":842.522,"type":"quantitative"},"y":{"datum":7.33,"type":"quantitative"},"text":{"field":"date"}}},
   {"mark":{"type":"text","align":"center","baseline":"middle","font":"DejaVu Sans Mono","fontSize":11.5,"color":"#111"},"encoding":{"x":{"datum":837.957,"type":"quantitative"},"y":{"datum":-9.11,"type":"quantitative"},"text":{"field":"wl"}}},
   {"mark":{"type":"text","align":"center","baseline":"middle","font":"DejaVu Sans Mono","fontSize":11.5,"color":"#111"},"encoding":{"x":{"datum":838.101,"type":"quantitative"},"y":{"datum":-13.0,"type":"quantitative"},"text":{"field":"pk"}}},
   {"mark":{"type":"tick","orient":"vertical","size":9,"thickness":1,"yOffset":-4,"color":"#111"}},
   {"mark":{"type":"text","text":"⇙","align":"left","baseline":"bottom","font":"DejaVu Sans","fontSize":16,"dx":0,"dy":3,"color":"#111"}}
  ]}
 ]},
{"width":449,"height":270,
 "encoding":{"x":{"field":"w","type":"quantitative","scale":{"domain":[837.5,842.5],"nice":false,"zero":false},"axis":{"values":[837.5,838,838.5,839,839.5,840,840.5,841,841.5,842,842.5],"grid":true,"labels":false,"ticks":false,"domain":false,"title":null}},"y":{"field":"d","type":"quantitative","scale":{"domain":[-63,-3],"nice":false,"zero":false},"axis":{"values":[-63,-58,-53,-48,-43,-38,-33,-28,-23,-18,-13,-8,-3],"grid":true,"labels":false,"ticks":false,"domain":false,"title":null}}},
 "layer":[
  {"data":{"name":"s4"},"mark":{"type":"rule","clip":true,"color":"#1a1a1a","strokeWidth":1},"encoding":{"y2":{"datum":-63}}},
  {"data":{"name":"c4"},"mark":{"type":"line","clip":true,"color":"#1a1a1a","strokeWidth":1}},
  {"data":{"name":"lab"},"mark":{"type":"text","align":"left","baseline":"middle","font":"DejaVu Sans Mono","fontSize":11.5,"color":"#111"},"encoding":{"text":{"field":"t"}}},
  {"data":{"name":"labr"},"mark":{"type":"text","align":"right","baseline":"middle","font":"DejaVu Sans Mono","fontSize":11.5,"color":"#111"},"encoding":{"text":{"field":"t"}}},
  {"data":{"name":"info"},"transform":[{"filter":"datum.p == 4"}],"layer":[
   {"mark":{"type":"rect","color":"#7a7a7a"},"encoding":{"x":{"datum":843.258,"type":"quantitative"},"x2":{"datum":843.325},"y":{"datum":8.0,"type":"quantitative"},"y2":{"datum":-77.33}}},
   {"mark":{"type":"rect","color":"#7a7a7a"},"encoding":{"x":{"datum":836.988,"type":"quantitative"},"x2":{"datum":843.325},"y":{"datum":-76.0,"type":"quantitative"},"y2":{"datum":-77.33}}},
   {"mark":{"type":"rect","filled":false,"stroke":"#111","strokeWidth":1.5,"cornerRadius":6},"encoding":{"x":{"datum":836.921,"type":"quantitative"},"x2":{"datum":843.241},"y":{"datum":9.22,"type":"quantitative"},"y2":{"datum":-75.67}}},
   {"mark":{"type":"text","align":"left","baseline":"middle","font":"DejaVu Sans","fontWeight":"bold","fontSize":13,"color":"#111"},"encoding":{"x":{"datum":837.043,"type":"quantitative"},"y":{"datum":7.33,"type":"quantitative"},"text":{"value":"Anritsu"}}},
   {"mark":{"type":"text","align":"left","baseline":"middle","font":"DejaVu Sans","fontSize":7,"color":"#111"},"encoding":{"x":{"datum":837.556,"type":"quantitative"},"y":{"datum":-13.33,"type":"quantitative"},"text":{"value":"REF"}}},
   {"mark":{"type":"text","align":"right","baseline":"middle","font":"DejaVu Sans Mono","fontSize":11.5,"color":"#111"},"encoding":{"x":{"datum":842.522,"type":"quantitative"},"y":{"datum":7.33,"type":"quantitative"},"text":{"field":"date"}}},
   {"mark":{"type":"text","align":"center","baseline":"middle","font":"DejaVu Sans Mono","fontSize":11.5,"color":"#111"},"encoding":{"x":{"datum":837.957,"type":"quantitative"},"y":{"datum":-9.11,"type":"quantitative"},"text":{"field":"wl"}}},
   {"mark":{"type":"text","align":"center","baseline":"middle","font":"DejaVu Sans Mono","fontSize":11.5,"color":"#111"},"encoding":{"x":{"datum":838.101,"type":"quantitative"},"y":{"datum":-13.0,"type":"quantitative"},"text":{"field":"pk"}}},
   {"mark":{"type":"tick","orient":"vertical","size":9,"thickness":1,"yOffset":-4,"color":"#111"}},
   {"mark":{"type":"text","text":"⇙","align":"left","baseline":"bottom","font":"DejaVu Sans","fontSize":16,"dx":0,"dy":3,"color":"#111"}}
  ]}
 ]},
{"width":449,"height":270,
 "encoding":{"x":{"field":"w","type":"quantitative","scale":{"domain":[837.5,842.5],"nice":false,"zero":false},"axis":{"values":[837.5,838,838.5,839,839.5,840,840.5,841,841.5,842,842.5],"grid":true,"labels":false,"ticks":false,"domain":false,"title":null}},"y":{"field":"d","type":"quantitative","scale":{"domain":[-63,-3],"nice":false,"zero":false},"axis":{"values":[-63,-58,-53,-48,-43,-38,-33,-28,-23,-18,-13,-8,-3],"grid":true,"labels":false,"ticks":false,"domain":false,"title":null}}},
 "layer":[
  {"data":{"name":"s5"},"mark":{"type":"rule","clip":true,"color":"#1a1a1a","strokeWidth":1},"encoding":{"y2":{"datum":-63}}},
  {"data":{"name":"c5"},"mark":{"type":"line","clip":true,"color":"#1a1a1a","strokeWidth":1}},
  {"data":{"name":"lab"},"mark":{"type":"text","align":"left","baseline":"middle","font":"DejaVu Sans Mono","fontSize":11.5,"color":"#111"},"encoding":{"text":{"field":"t"}}},
  {"data":{"name":"labr"},"mark":{"type":"text","align":"right","baseline":"middle","font":"DejaVu Sans Mono","fontSize":11.5,"color":"#111"},"encoding":{"text":{"field":"t"}}},
  {"data":{"name":"info"},"transform":[{"filter":"datum.p == 5"}],"layer":[
   {"mark":{"type":"rect","color":"#7a7a7a"},"encoding":{"x":{"datum":843.258,"type":"quantitative"},"x2":{"datum":843.325},"y":{"datum":8.0,"type":"quantitative"},"y2":{"datum":-77.33}}},
   {"mark":{"type":"rect","color":"#7a7a7a"},"encoding":{"x":{"datum":836.988,"type":"quantitative"},"x2":{"datum":843.325},"y":{"datum":-76.0,"type":"quantitative"},"y2":{"datum":-77.33}}},
   {"mark":{"type":"rect","filled":false,"stroke":"#111","strokeWidth":1.5,"cornerRadius":6},"encoding":{"x":{"datum":836.921,"type":"quantitative"},"x2":{"datum":843.241},"y":{"datum":9.22,"type":"quantitative"},"y2":{"datum":-75.67}}},
   {"mark":{"type":"text","align":"left","baseline":"middle","font":"DejaVu Sans","fontWeight":"bold","fontSize":13,"color":"#111"},"encoding":{"x":{"datum":837.043,"type":"quantitative"},"y":{"datum":7.33,"type":"quantitative"},"text":{"value":"Anritsu"}}},
   {"mark":{"type":"text","align":"left","baseline":"middle","font":"DejaVu Sans","fontSize":7,"color":"#111"},"encoding":{"x":{"datum":837.556,"type":"quantitative"},"y":{"datum":-13.33,"type":"quantitative"},"text":{"value":"REF"}}},
   {"mark":{"type":"text","align":"right","baseline":"middle","font":"DejaVu Sans Mono","fontSize":11.5,"color":"#111"},"encoding":{"x":{"datum":842.522,"type":"quantitative"},"y":{"datum":7.33,"type":"quantitative"},"text":{"field":"date"}}},
   {"mark":{"type":"text","align":"center","baseline":"middle","font":"DejaVu Sans Mono","fontSize":11.5,"color":"#111"},"encoding":{"x":{"datum":837.957,"type":"quantitative"},"y":{"datum":-9.11,"type":"quantitative"},"text":{"field":"wl"}}},
   {"mark":{"type":"text","align":"center","baseline":"middle","font":"DejaVu Sans Mono","fontSize":11.5,"color":"#111"},"encoding":{"x":{"datum":838.101,"type":"quantitative"},"y":{"datum":-13.0,"type":"quantitative"},"text":{"field":"pk"}}},
   {"mark":{"type":"tick","orient":"vertical","size":9,"thickness":1,"yOffset":-4,"color":"#111"}},
   {"mark":{"type":"text","text":"⇙","align":"left","baseline":"bottom","font":"DejaVu Sans","fontSize":16,"dx":0,"dy":3,"color":"#111"}}
  ]}
 ]},
{"width":449,"height":270,
 "encoding":{"x":{"field":"w","type":"quantitative","scale":{"domain":[837.5,842.5],"nice":false,"zero":false},"axis":{"values":[837.5,838,838.5,839,839.5,840,840.5,841,841.5,842,842.5],"grid":true,"labels":false,"ticks":false,"domain":false,"title":null}},"y":{"field":"d","type":"quantitative","scale":{"domain":[-63,-3],"nice":false,"zero":false},"axis":{"values":[-63,-58,-53,-48,-43,-38,-33,-28,-23,-18,-13,-8,-3],"grid":true,"labels":false,"ticks":false,"domain":false,"title":null}}},
 "layer":[
  {"data":{"name":"s6"},"mark":{"type":"rule","clip":true,"color":"#1a1a1a","strokeWidth":1},"encoding":{"y2":{"datum":-63}}},
  {"data":{"name":"c6"},"mark":{"type":"line","clip":true,"color":"#1a1a1a","strokeWidth":1}},
  {"data":{"name":"lab"},"mark":{"type":"text","align":"left","baseline":"middle","font":"DejaVu Sans Mono","fontSize":11.5,"color":"#111"},"encoding":{"text":{"field":"t"}}},
  {"data":{"name":"labr"},"mark":{"type":"text","align":"right","baseline":"middle","font":"DejaVu Sans Mono","fontSize":11.5,"color":"#111"},"encoding":{"text":{"field":"t"}}},
  {"data":{"name":"info"},"transform":[{"filter":"datum.p == 6"}],"layer":[
   {"mark":{"type":"rect","color":"#7a7a7a"},"encoding":{"x":{"datum":843.258,"type":"quantitative"},"x2":{"datum":843.325},"y":{"datum":8.0,"type":"quantitative"},"y2":{"datum":-77.33}}},
   {"mark":{"type":"rect","color":"#7a7a7a"},"encoding":{"x":{"datum":836.988,"type":"quantitative"},"x2":{"datum":843.325},"y":{"datum":-76.0,"type":"quantitative"},"y2":{"datum":-77.33}}},
   {"mark":{"type":"rect","filled":false,"stroke":"#111","strokeWidth":1.5,"cornerRadius":6},"encoding":{"x":{"datum":836.921,"type":"quantitative"},"x2":{"datum":843.241},"y":{"datum":9.22,"type":"quantitative"},"y2":{"datum":-75.67}}},
   {"mark":{"type":"text","align":"left","baseline":"middle","font":"DejaVu Sans","fontWeight":"bold","fontSize":13,"color":"#111"},"encoding":{"x":{"datum":837.043,"type":"quantitative"},"y":{"datum":7.33,"type":"quantitative"},"text":{"value":"Anritsu"}}},
   {"mark":{"type":"text","align":"left","baseline":"middle","font":"DejaVu Sans","fontSize":7,"color":"#111"},"encoding":{"x":{"datum":837.556,"type":"quantitative"},"y":{"datum":-13.33,"type":"quantitative"},"text":{"value":"REF"}}},
   {"mark":{"type":"text","align":"right","baseline":"middle","font":"DejaVu Sans Mono","fontSize":11.5,"color":"#111"},"encoding":{"x":{"datum":842.522,"type":"quantitative"},"y":{"datum":7.33,"type":"quantitative"},"text":{"field":"date"}}},
   {"mark":{"type":"text","align":"center","baseline":"middle","font":"DejaVu Sans Mono","fontSize":11.5,"color":"#111"},"encoding":{"x":{"datum":837.957,"type":"quantitative"},"y":{"datum":-9.11,"type":"quantitative"},"text":{"field":"wl"}}},
   {"mark":{"type":"text","align":"center","baseline":"middle","font":"DejaVu Sans Mono","fontSize":11.5,"color":"#111"},"encoding":{"x":{"datum":838.101,"type":"quantitative"},"y":{"datum":-13.0,"type":"quantitative"},"text":{"field":"pk"}}},
   {"mark":{"type":"tick","orient":"vertical","size":9,"thickness":1,"yOffset":-4,"color":"#111"}},
   {"mark":{"type":"text","text":"⇙","align":"left","baseline":"bottom","font":"DejaVu Sans","fontSize":16,"dx":0,"dy":3,"color":"#111"}}
  ]}
 ]}
]
}
